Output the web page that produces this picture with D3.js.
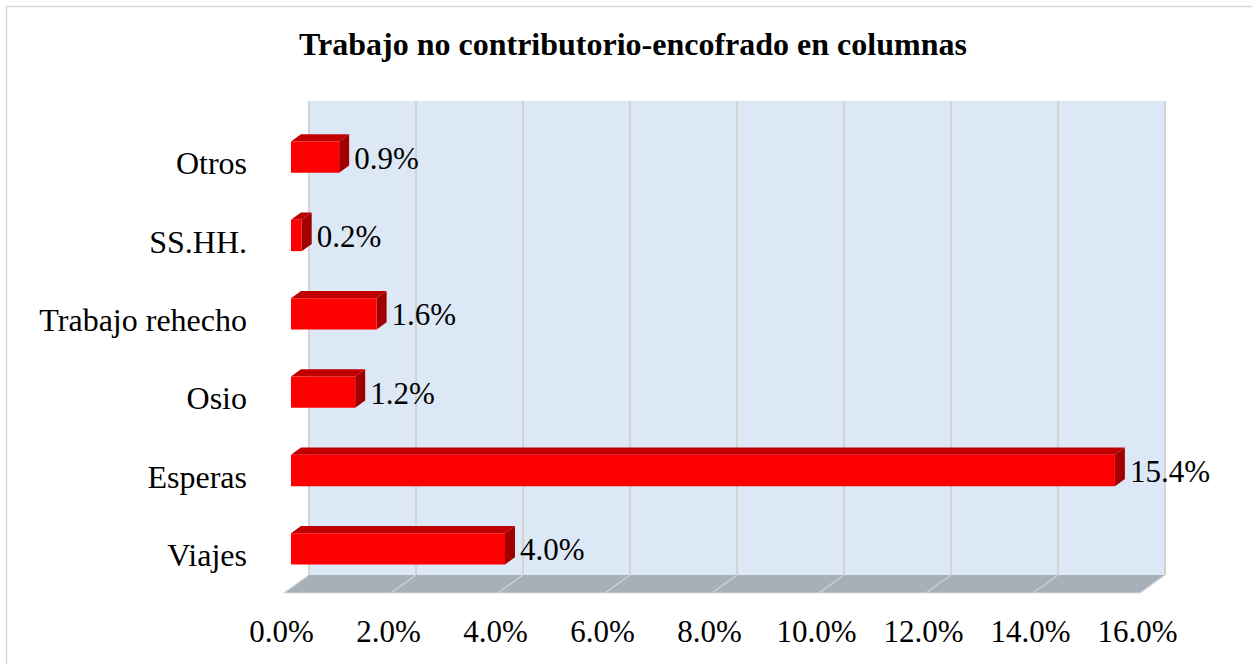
<!DOCTYPE html>
<html>
<head>
<meta charset="utf-8">
<script src="https://cdn.jsdelivr.net/npm/d3@7"></script>
<style>
  body { margin: 0; background: #fff; }
  svg { display: block; font-family: "Liberation Serif", "Times New Roman", serif; }
</style>
</head>
<body>
<svg id="chart" width="1252" height="664"></svg>
<script>
// datos (de arriba hacia abajo)
var categories = ["Otros", "SS.HH.", "Trabajo rehecho", "Osio", "Esperas", "Viajes"];
var values = [0.009, 0.002, 0.016, 0.012, 0.154, 0.040];
var tickValues = [0, 0.02, 0.04, 0.06, 0.08, 0.10, 0.12, 0.14, 0.16];
var title = "Trabajo no contributorio-encofrado en columnas";

var svg = d3.select("#chart");

// marco
svg.append("rect")
  .attr("x", 6.5).attr("y", 6.5)
  .attr("width", 1260).attr("height", 680)
  .attr("fill", "#fff")
  .attr("stroke", "#d9d9d9")
  .attr("stroke-width", 1.5);

svg.append("text")
  .attr("x", 633)
  .attr("y", 55)
  .attr("text-anchor", "middle")
  .attr("font-weight", "bold")
  .attr("font-size", "32px")
  .attr("fill", "#000")
  .text(title);

// plano frontal
var x = d3.scaleLinear().domain([0, 0.16]).range([284, 1140]);
var planeTop = 119, planeBottom = 593;
var y = d3.scaleBand()
  .domain(categories)
  .range([123, 593])
  .paddingInner(0.6)
  .paddingOuter(0.3);

// profundidad 3D
var depth = { dx: 25, dy: -18 };
function project(v, py, d){
  return [x(v) + depth.dx * d, py + depth.dy * d];
}
function poly(pts){
  return pts.map(function(p){ return p.join(","); }).join(" ");
}

// pared del fondo
var wallTop = planeTop + depth.dy, wallBottom = planeBottom + depth.dy;
svg.append("rect")
  .attr("x", x(0) + depth.dx)
  .attr("y", wallTop)
  .attr("width", x(0.16) - x(0))
  .attr("height", wallBottom - wallTop)
  .attr("fill", "#dde8f6");

// piso
svg.append("polygon")
  .attr("points", poly([
    project(0, planeBottom, 0), project(0, planeBottom, 1),
    project(0.16, planeBottom, 1), project(0.16, planeBottom, 0)
  ]))
  .attr("fill", "#a7b0b9");

svg.append("line")
  .attr("x1", x(0)).attr("x2", x(0.16))
  .attr("y1", planeBottom).attr("y2", planeBottom)
  .attr("stroke", "#d9dde2").attr("stroke-width", 1);

// lineas de division
var grid = svg.append("g");
tickValues.forEach(function(t){
  var back = project(t, planeBottom, 1);
  grid.append("line")
    .attr("x1", back[0]).attr("x2", back[0])
    .attr("y1", wallTop).attr("y2", wallBottom)
    .attr("stroke", "#d3d3d3").attr("stroke-width", 2);
  var front = project(t, planeBottom, 0);
  grid.append("line")
    .attr("x1", front[0]).attr("y1", front[1])
    .attr("x2", back[0]).attr("y2", back[1])
    .attr("stroke", "#d0d4d8").attr("stroke-width", 1.2);
});

// barras
var df = 0.28, db = 0.68;
var bars = svg.selectAll(".bar")
  .data(categories)
  .enter().append("g")
  .attr("class", "bar");

bars.append("polygon")
  .attr("points", function(c, i){
    var yt = y(c);
    return poly([project(0, yt, df), project(values[i], yt, df), project(values[i], yt, db), project(0, yt, db)]);
  })
  .attr("fill", "#c00000");

bars.append("polygon")
  .attr("points", function(c, i){
    var yt = y(c), yb = y(c) + y.bandwidth();
    return poly([project(values[i], yt, df), project(values[i], yt, db), project(values[i], yb, db), project(values[i], yb, df)]);
  })
  .attr("fill", "#a00000");

bars.append("polygon")
  .attr("points", function(c, i){
    var yt = y(c), yb = y(c) + y.bandwidth();
    return poly([project(0, yt, df), project(values[i], yt, df), project(values[i], yb, df), project(0, yb, df)]);
  })
  .attr("fill", "#ff0000");

// etiquetas de datos
bars.append("text")
  .attr("x", function(c, i){ return project(values[i], 0, df)[0] + 15; })
  .attr("y", function(c){ return project(0, y(c) + y.bandwidth() / 2, df)[1]; })
  .attr("dy", "0.37em")
  .attr("font-size", "31px")
  .attr("fill", "#000")
  .text(function(c, i){ return d3.format(".1%")(values[i]); });

// eje de categorias
var yAxis = svg.append("g")
  .attr("transform", "translate(" + x(0) + ",0)")
  .call(d3.axisLeft(y).tickSize(0).tickPadding(37));
yAxis.select(".domain").remove();
yAxis.selectAll("text")
  .attr("dy", "0.38em")
  .attr("font-family", "Liberation Serif, serif")
  .attr("font-size", "32px")
  .attr("fill", "#000");

// eje de valores
var xAxis = svg.append("g")
  .attr("transform", "translate(-3," + planeBottom + ")")
  .call(d3.axisBottom(x).tickValues(tickValues).tickFormat(d3.format(".1%")).tickSize(0).tickPadding(27));
xAxis.select(".domain").remove();
xAxis.selectAll("text")
  .attr("font-family", "Liberation Serif, serif")
  .attr("font-size", "31px")
  .attr("fill", "#000");
</script>
</body>
</html>
